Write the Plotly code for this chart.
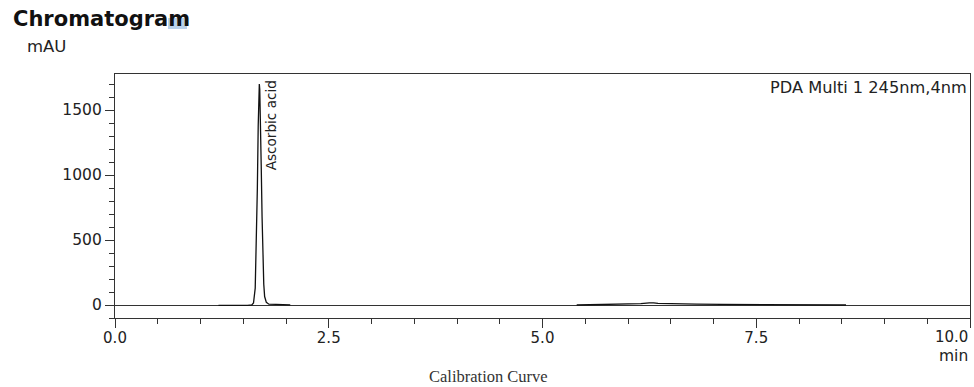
import plotly.graph_objects as go

# Retention time (min) and detector response (mAU), main peak region
peak_time = [1.21, 1.30, 1.40, 1.50, 1.55, 1.60, 1.62, 1.64, 1.655, 1.665, 1.675,
             1.683, 1.688, 1.693, 1.70, 1.71, 1.72, 1.73, 1.74, 1.75, 1.77,
             1.80, 1.90, 2.05]
peak_mau = [-3, -4, -4, -3, -3, 0, 15, 130, 480, 900, 1380,
            1650, 1700, 1660, 1480, 1080, 680, 360, 160, 65, 20,
            6, 2, 1]

# Late-eluting region with a small broad hump
late_time = [5.40, 5.60, 5.80, 6.00, 6.15, 6.25, 6.30, 6.35, 6.50, 6.80,
             7.10, 7.40, 7.70, 8.00, 8.30, 8.55]
late_mau = [0, 2, 5, 8, 10, 16, 17, 12, 9, 7,
            5, 3, 1, -2, -1, 0]

peak_name = "Ascorbic acid"
channel = "PDA Multi 1 245nm,4nm"

x_ticks = [0.0, 2.5, 5.0, 7.5, 10.0]
x_ticktext = ["0.0", "2.5", "5.0", "7.5", ""]
y_ticks = [0, 500, 1000, 1500]

FONT = "DejaVu Sans"
INK = "#222222"
AXIS = "#333333"

fig = go.Figure()
for t, v in ((peak_time, peak_mau), (late_time, late_mau)):
    fig.add_trace(go.Scatter(x=t, y=v, mode="lines",
                             line=dict(color="#111111", width=1.3),
                             showlegend=False, hoverinfo="skip"))

apex = max(range(len(peak_mau)), key=lambda i: peak_mau[i])

fig.update_layout(
    width=974, height=387,
    margin=dict(l=115, r=4, t=74, b=69),
    paper_bgcolor="white", plot_bgcolor="white",
    font=dict(family=FONT, size=15, color=INK),
    xaxis=dict(range=[0, 10], tickvals=x_ticks, ticktext=x_ticktext,
               ticks="outside", ticklen=9, tickwidth=1, tickcolor=AXIS,
               ticklabelstandoff=-3,
               showline=True, linecolor=AXIS, linewidth=1.2, mirror=True,
               showgrid=False, zeroline=False,
               minor=dict(dtick=0.5, ticks="outside", ticklen=5,
                          tickcolor=AXIS, tickwidth=1, showgrid=False),
               tickfont=dict(size=15, color=INK)),
    yaxis=dict(range=[-100, 1777], tickvals=y_ticks,
               ticks="outside", ticklen=9, tickwidth=1, tickcolor=AXIS,
               showline=True, linecolor=AXIS, linewidth=1.2, mirror=True,
               showgrid=False, zeroline=True, zerolinecolor="#333333",
               zerolinewidth=1,
               minor=dict(dtick=100, ticks="outside", ticklen=5,
                          tickcolor=AXIS, tickwidth=1, showgrid=False),
               tickfont=dict(size=15.5, color=INK)),
)

# selection highlight behind the final letter of the heading
fig.add_shape(type="rect", xref="paper", yref="paper",
              x0=(168 - 115) / 855, x1=(187 - 115) / 855,
              y0=(318 - 29) / 244, y1=(318 - 18) / 244,
              fillcolor="#b9d1ea", line=dict(width=0), layer="below")

W, H = 855, 244  # plot area size in px
def px(xp, yp):
    return (xp - 115) / W, (318 - yp) / H

annots = [
    dict(text="<b>Chromatogram</b>", xy=px(11, 19), xanchor="left", yanchor="middle",
         size=21, color="#111111", family=FONT),
    dict(text="mAU", xy=px(25, 46), xanchor="left", yanchor="middle",
         size=16.5, color=INK, family=FONT),
    dict(text="10.0", xy=px(970, 337), xanchor="right", yanchor="middle",
         size=15, color=INK, family=FONT),
    dict(text="min", xy=px(970, 356), xanchor="right", yanchor="middle",
         size=15.5, color=INK, family=FONT),
    dict(text="Calibration Curve", xy=px(488, 376), xanchor="center", yanchor="middle",
         size=16.5, color="#333333", family="Liberation Serif"),
    dict(text=channel, xy=px(969, 87), xanchor="right", yanchor="middle",
         size=16.2, color=INK, family=FONT),
]
for a in annots:
    fig.add_annotation(text=a["text"], xref="paper", yref="paper",
                       x=a["xy"][0], y=a["xy"][1], xanchor=a["xanchor"],
                       yanchor=a["yanchor"], showarrow=False,
                       font=dict(size=a["size"], color=a["color"], family=a["family"]))

fig.add_annotation(text=peak_name, x=peak_time[apex], y=peak_mau[apex],
                   xref="x", yref="y", textangle=-90, xanchor="left", yanchor="top",
                   xshift=2, yshift=6, showarrow=False,
                   font=dict(size=13.6, color=INK, family=FONT))

fig.write_html("out.html")
